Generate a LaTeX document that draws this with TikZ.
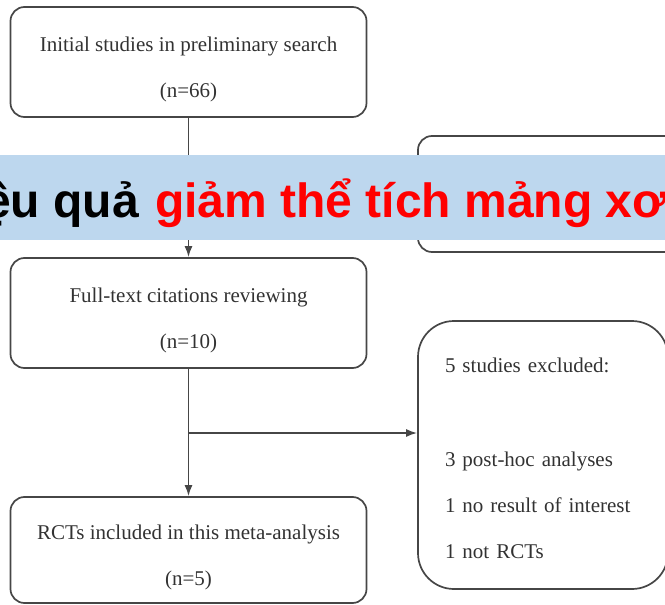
\documentclass[tikz,border=0pt]{standalone}
\usepackage{fontspec}
\setmainfont{Liberation Serif}
\newfontfamily\bannerfont{Liberation Sans}
\usetikzlibrary{arrows.meta}
\definecolor{boxline}{RGB}{70,70,70}
\definecolor{boxtext}{RGB}{50,50,50}
\definecolor{bannerblue}{RGB}{189,215,238}

\begin{document}
\begin{tikzpicture}[x=1pt,y=-1pt]
\tikzset{
    flowbox/.style={draw=boxline, line width=1.7pt, rounded corners=14pt,
        minimum width=356pt, minimum height=110pt, inner sep=0pt,
        align=center, text=boxtext, font=\fontsize{21}{46}\selectfont},
    flowarrow/.style={draw=boxline, line width=1.7pt, -{Latex[length=11pt,width=8pt]}},
    bannertext/.style={inner sep=0pt, font=\bannerfont\bfseries\fontsize{48}{56}\selectfont}
}
\useasboundingbox (0,0) rectangle (665,605);
\clip (0,0) rectangle (665,605);
% Boxes
\node[flowbox] (initial) at (188.5,62) {\rule{0pt}{29pt}Initial studies in preliminary search\\(n=66)};
\node[flowbox] (fulltext) at (188.5,313) {\rule{0pt}{29pt}Full-text citations reviewing\\(n=10)};
\node[flowbox, minimum height=106pt] (rcts) at (188.5,550) {\rule{0pt}{29pt}RCTs included in this meta-analysis\\(n=5)};
\node[flowbox, minimum width=262pt, minimum height=116pt] (excltop) at (549,194) {};
\node[flowbox, rounded corners=36pt, minimum width=250pt, minimum height=268pt,
    align=left, text width=196pt, inner xsep=27pt] (exclbox) at (543,455)
    {\rule{0pt}{21pt}5 studies excluded:\\[48pt]3 post-hoc analyses\\1 no result of interest\\1 not RCTs};
% Connectors
\draw[flowarrow] (initial) -- (fulltext);
\draw[flowarrow] (fulltext) -- (rcts);
\coordinate (split) at (188.5,433);
\draw[flowarrow] (split) -- (split -| exclbox.west);
% Banner
\node[fill=bannerblue, minimum width=665pt, minimum height=85pt, inner sep=0pt] (banner) at (332.5,197.5) {};
\node[bannertext, anchor=base east] (bannerblack) at (139,217) {ệu quả};
\node[bannertext, anchor=base west, text=red] (bannerred) at (155,217) {giảm thể tích mảng xơ};
\end{tikzpicture}
\end{document}
